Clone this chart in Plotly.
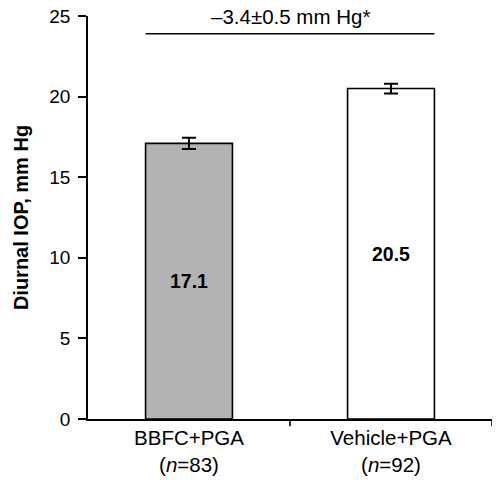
import plotly.graph_objects as go

categories = ["BBFC+PGA<br>(<i>n</i>=83)", "Vehicle+PGA<br>(<i>n</i>=92)"]
values = [17.1, 20.5]
errors = [0.35, 0.3]
bar_labels = ["17.1", "20.5"]
diff_label = "\u20133.4\u00b10.5 mm Hg*"
diff_y = 23.9
colors = ["#b3b3b3", "#ffffff"]
bar_width = 0.43

FONT = "Liberation Sans, Arial"

fig = go.Figure()
fig.add_trace(go.Bar(
    x=[0, 1], y=values, width=bar_width,
    marker=dict(color=colors, line=dict(color="black", width=1.6)),
    error_y=dict(type="data", array=errors, color="black", thickness=2, width=7),
    text=bar_labels, textposition="inside", insidetextanchor="middle",
    textfont=dict(family=FONT, size=19.5, color="black", weight="bold"),
    textangle=0,
))

fig.add_shape(type="line", xref="x", yref="y",
              x0=-bar_width / 2, x1=1 + bar_width / 2, y0=diff_y, y1=diff_y,
              line=dict(color="black", width=1.6))
fig.add_annotation(x=0.5, y=diff_y, xref="x", yref="y", text=diff_label,
                   showarrow=False, yanchor="bottom", yshift=4,
                   font=dict(family=FONT, size=20.5, color="black"))

fig.update_layout(
    width=497, height=480,
    margin=dict(l=88, r=5, t=16, b=61),
    plot_bgcolor="white", paper_bgcolor="white",
    showlegend=False,
    font=dict(family=FONT, size=19, color="black"),
    xaxis=dict(
        tickmode="array", tickvals=[0, 1], ticktext=categories,
        range=[-0.5, 1.5], showline=True, linecolor="black", linewidth=1.6,
        ticks="", showgrid=False, zeroline=False,
        tickfont=dict(size=20.5),
    ),
    yaxis=dict(
        range=[0, 25], tickvals=[0, 5, 10, 15, 20, 25],
        showline=True, linecolor="black", linewidth=1.6,
        ticks="outside", ticklen=8, tickcolor="black", tickwidth=1.6,
        ticklabelstandoff=4,
        showgrid=False, zeroline=False,
        tickfont=dict(size=19),
        title=dict(text="<b>Diurnal IOP, mm Hg</b>", standoff=15,
                   font=dict(size=20)),
    ),
)

# category boundary ticks on x axis
for xb in [0.5, 1.5]:
    fig.add_shape(type="line", xref="x", yref="paper", x0=xb, x1=xb, y0=0, y1=-0.018,
                  line=dict(color="black", width=1.6))

# remove the default 8px page margin so the figure sits at the window corner
fig.write_html("out.html", post_script="document.body.style.margin='0';",
               config={"displayModeBar": False})
